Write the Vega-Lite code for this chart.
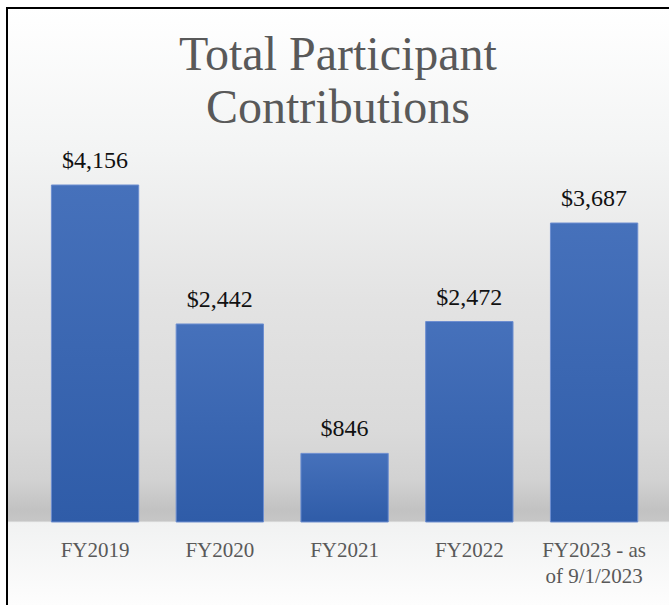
{
  "$schema": "https://vega.github.io/schema/vega-lite/v6.json",
  "autosize": "none",
  "padding": {"left": 7, "top": 8, "right": 0, "bottom": 0},
  "width": 662,
  "height": 597,
  "background": "#ffffff",
  "title": {
    "text": ["Total Participant", "Contributions"],
    "font": "Liberation Serif",
    "fontSize": 48,
    "fontWeight": "normal",
    "color": "#595959",
    "anchor": "middle",
    "frame": "group",
    "baseline": "alphabetic",
    "lineHeight": 53,
    "offset": -163
  },
  "config": {
    "view": {
      "stroke": "#000000",
      "strokeWidth": 2,
      "strokeDash": [662, 1259, 597],
      "fill": {
        "gradient": "linear",
        "x1": 0, "y1": 0, "x2": 0, "y2": 1,
        "stops": [
          {"offset": 0, "color": "#ffffff"},
          {"offset": 0.238, "color": "#f3f4f4"},
          {"offset": 0.489, "color": "#e3e3e3"},
          {"offset": 0.707, "color": "#dadada"},
          {"offset": 0.79, "color": "#d2d2d2"},
          {"offset": 0.841, "color": "#c2c2c2"},
          {"offset": 0.859, "color": "#c6c6c6"},
          {"offset": 0.862, "color": "#f1f2f2"},
          {"offset": 1, "color": "#fdfdfd"}
        ]
      }
    }
  },
  "data": {
    "values": [
      {"year": "FY2019", "value": 4156},
      {"year": "FY2020", "value": 2442},
      {"year": "FY2021", "value": 846},
      {"year": "FY2022", "value": 2472},
      {"year": "FY2023 - as of 9/1/2023", "value": 3687}
    ]
  },
  "encoding": {
    "x": {
      "field": "year",
      "type": "nominal",
      "sort": null,
      "scale": {"paddingInner": 0.3, "paddingOuter": 0.303, "align": 0.587},
      "axis": {
        "title": null,
        "orient": "bottom",
        "offset": -83,
        "domain": false,
        "ticks": false,
        "tickSize": 0,
        "labelAngle": 0,
        "labelFont": "Liberation Serif",
        "labelFontSize": 21,
        "labelColor": "#595959",
        "labelBaseline": "alphabetic",
        "labelPadding": 34,
        "labelLineHeight": 26,
        "labelExpr": "datum.value == 'FY2023 - as of 9/1/2023' ? ['FY2023 - as', 'of 9/1/2023'] : datum.value",
        "grid": false
      }
    },
    "y": {
      "field": "value",
      "type": "quantitative",
      "scale": {"domain": [-1024, 6339], "nice": false, "zero": false},
      "axis": null
    }
  },
  "layer": [
    {
      "mark": {
        "type": "bar",
        "stroke": "#6d8ed0",
        "strokeWidth": 1,
        "color": {
          "gradient": "linear",
          "x1": 0, "y1": 0, "x2": 0, "y2": 1,
          "stops": [
            {"offset": 0, "color": "#4671bb"},
            {"offset": 1, "color": "#2f5ca8"}
          ]
        }
      }
    },
    {
      "mark": {
        "type": "text",
        "font": "Liberation Serif",
        "fontSize": 24,
        "color": "#111111",
        "baseline": "alphabetic",
        "dy": -17
      },
      "encoding": {
        "text": {"field": "value", "type": "quantitative", "format": "$,.0f"}
      }
    }
  ]
}
